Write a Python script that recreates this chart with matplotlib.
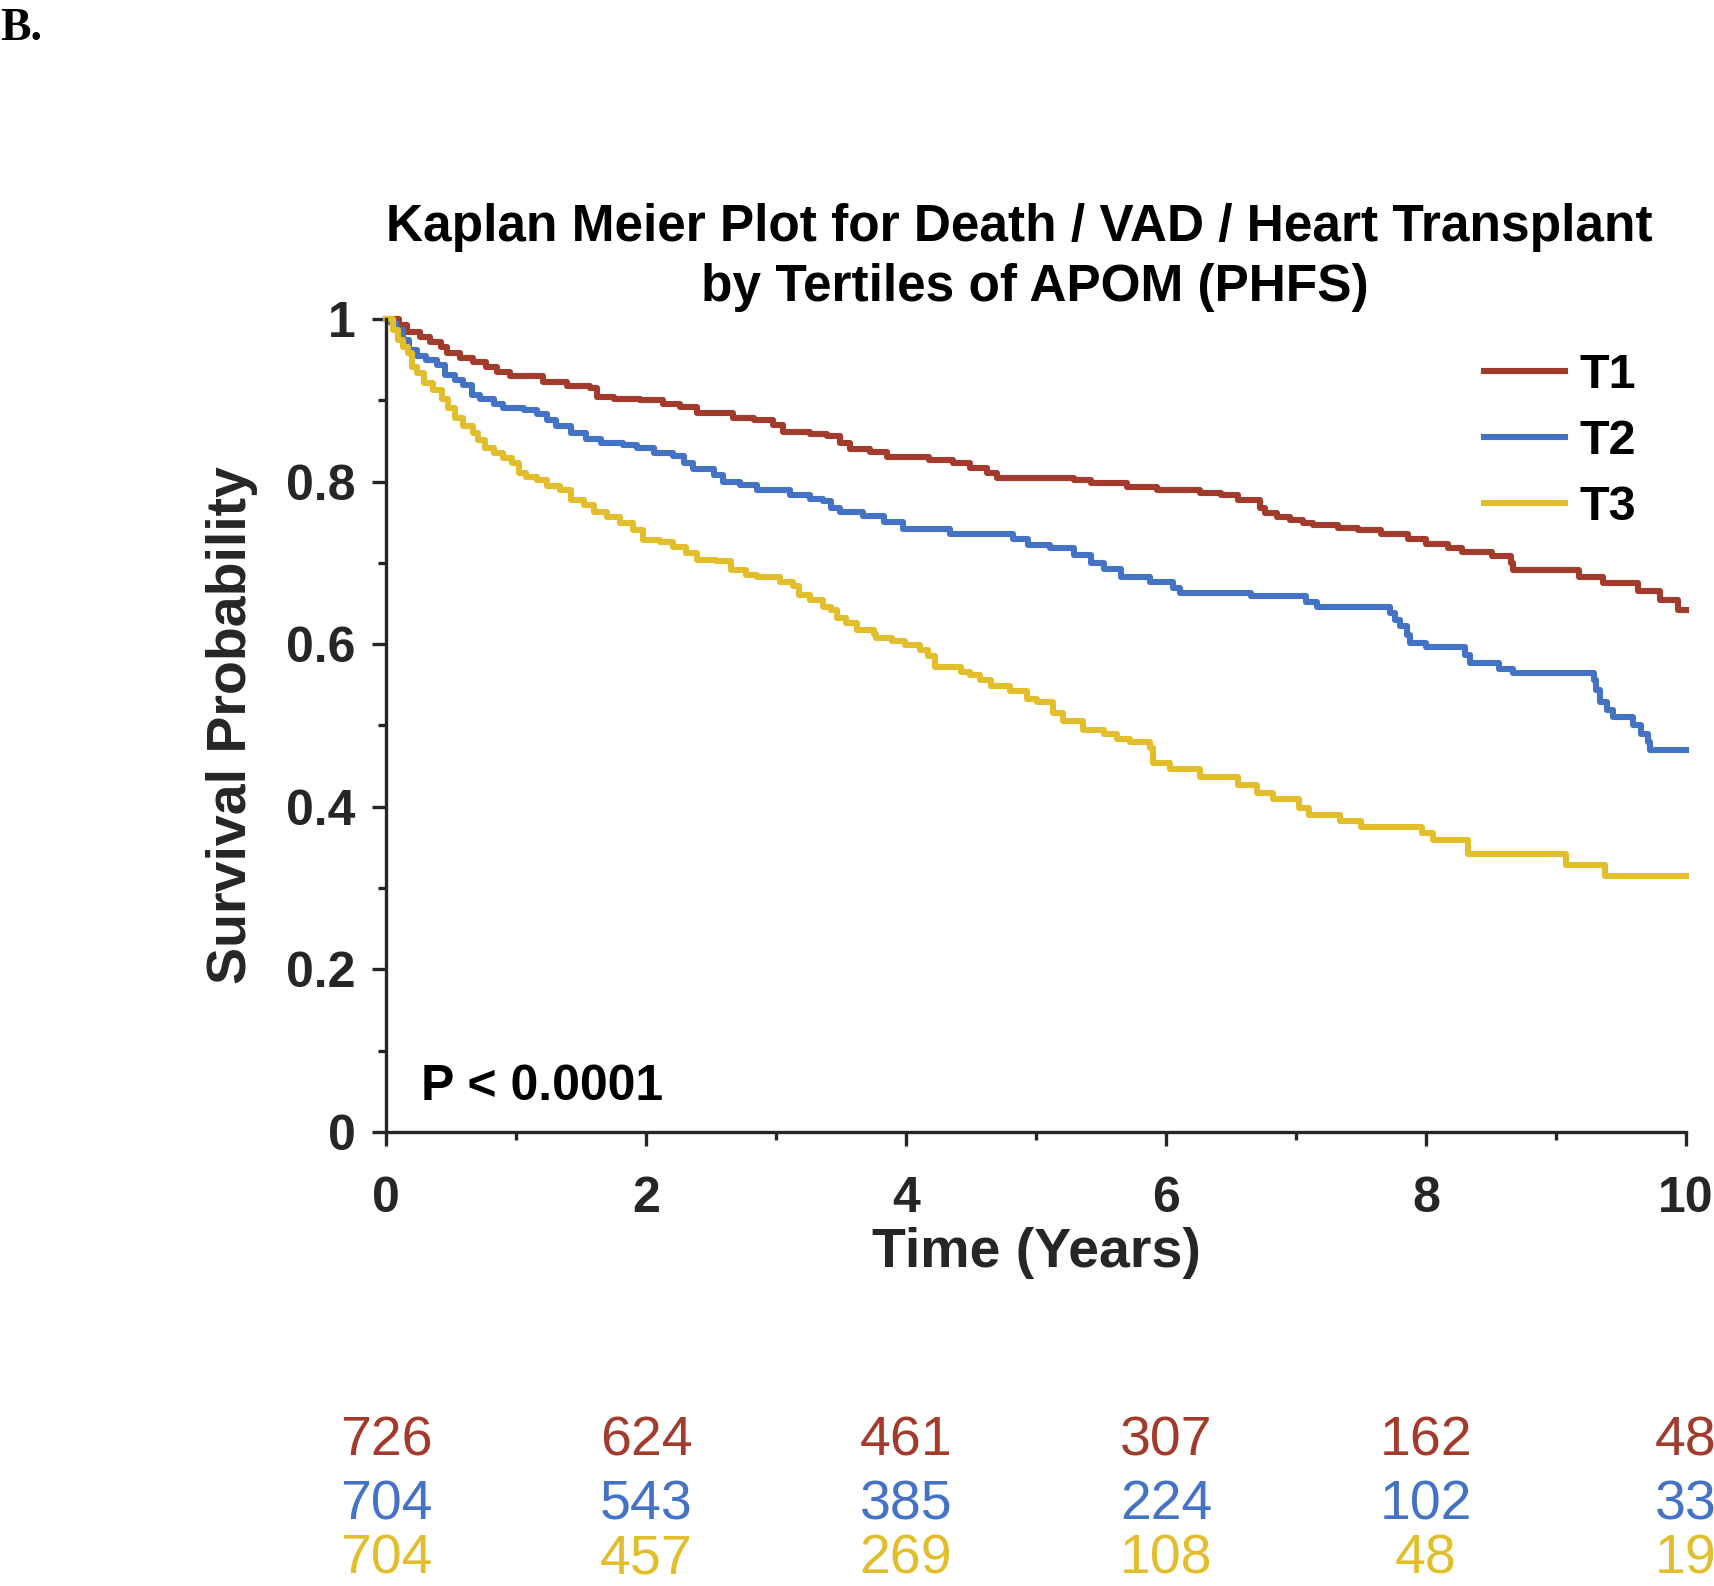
import numpy as np
import matplotlib
matplotlib.use('Agg')
import matplotlib.pyplot as plt
from matplotlib.ticker import MultipleLocator
from matplotlib.transforms import blended_transform_factory

plt.rcParams['font.family'] = ['Liberation Sans', 'DejaVu Sans']

# step times (years) and survival after each step
t1_time = [0, 0.1, 0.16, 0.26, 0.34, 0.42, 0.47, 0.57, 0.67, 0.77,
           0.85, 0.95, 1.21, 1.39, 1.57, 1.62, 1.75, 1.95, 2.13, 2.26,
           2.39, 2.67, 2.83, 2.98, 3.05, 3.26, 3.39, 3.49, 3.57, 3.72,
           3.85, 4.18, 4.36, 4.49, 4.62, 4.70, 5.29, 5.42, 5.70, 5.93,
           6.26, 6.42, 6.55, 6.72, 6.76, 6.85, 6.95, 7.05, 7.13, 7.32,
           7.48, 7.65, 7.86, 8.0, 8.17, 8.28, 8.51, 8.65, 8.67, 9.18,
           9.36, 9.63, 9.8, 9.94, 10.0]
t1_surv = [1.0, 0.993, 0.984, 0.978, 0.972, 0.966, 0.958, 0.952, 0.947, 0.941,
           0.935, 0.930, 0.923, 0.918, 0.915, 0.904, 0.902, 0.900, 0.896, 0.892,
           0.884, 0.878, 0.876, 0.870, 0.861, 0.859, 0.856, 0.847, 0.840, 0.836,
           0.830, 0.827, 0.823, 0.817, 0.811, 0.805, 0.802, 0.798, 0.793, 0.790,
           0.786, 0.784, 0.777, 0.767, 0.761, 0.757, 0.753, 0.749, 0.747, 0.743,
           0.740, 0.736, 0.730, 0.723, 0.718, 0.713, 0.708, 0.700, 0.691, 0.683,
           0.675, 0.665, 0.654, 0.642, 0.642]

t2_time = [0, 0.04, 0.08, 0.13, 0.18, 0.24, 0.31, 0.39, 0.45, 0.53,
           0.59, 0.66, 0.72, 0.83, 0.90, 1.06, 1.16, 1.24, 1.31, 1.42,
           1.54, 1.65, 1.82, 1.93, 2.06, 2.21, 2.29, 2.36, 2.52, 2.59,
           2.72, 2.85, 3.11, 3.26, 3.36, 3.42, 3.49, 3.67, 3.83, 3.98,
           4.34, 4.82, 4.94, 5.11, 5.29, 5.42, 5.52, 5.65, 5.88, 6.05,
           6.11, 6.65, 7.08, 7.16, 7.72, 7.76, 7.8, 7.85, 7.88, 8.0,
           8.3, 8.34, 8.56, 8.67, 9.29, 9.31, 9.34, 9.39, 9.44, 9.59,
           9.65, 9.71, 9.72, 10.0]
t2_surv = [1.0, 0.995, 0.986, 0.974, 0.962, 0.954, 0.950, 0.943, 0.931, 0.925,
           0.919, 0.906, 0.902, 0.896, 0.891, 0.888, 0.883, 0.876, 0.868, 0.860,
           0.853, 0.847, 0.845, 0.841, 0.835, 0.831, 0.823, 0.815, 0.808, 0.800,
           0.796, 0.790, 0.784, 0.779, 0.776, 0.767, 0.763, 0.758, 0.750, 0.742,
           0.736, 0.730, 0.722, 0.718, 0.710, 0.700, 0.692, 0.683, 0.676, 0.669,
           0.663, 0.659, 0.652, 0.646, 0.638, 0.630, 0.622, 0.611, 0.602, 0.597,
           0.587, 0.577, 0.570, 0.564, 0.556, 0.544, 0.529, 0.519, 0.511, 0.501,
           0.490, 0.480, 0.470, 0.470]

t3_time = [0, 0.05, 0.09, 0.13, 0.17, 0.2, 0.24, 0.29, 0.36, 0.43,
           0.48, 0.53, 0.59, 0.67, 0.71, 0.76, 0.83, 0.9, 0.97, 1.02,
           1.08, 1.16, 1.24, 1.34, 1.42, 1.52, 1.6, 1.7, 1.8, 1.9,
           1.98, 2.11, 2.21, 2.31, 2.39, 2.54, 2.65, 2.77, 2.85, 3.03,
           3.13, 3.18, 3.26, 3.36, 3.42, 3.47, 3.54, 3.62, 3.75, 3.77,
           3.89, 3.99, 4.11, 4.17, 4.22, 4.42, 4.49, 4.57, 4.65, 4.8,
           4.93, 5.01, 5.13, 5.21, 5.36, 5.52, 5.62, 5.72, 5.88, 5.9,
           6.03, 6.26, 6.55, 6.7, 6.82, 7.02, 7.1, 7.34, 7.5, 7.97,
           8.05, 8.32, 9.08, 9.38, 10.0]
t3_surv = [1.0, 0.986, 0.974, 0.966, 0.958, 0.941, 0.933, 0.921, 0.913, 0.902,
           0.890, 0.878, 0.868, 0.860, 0.851, 0.841, 0.835, 0.829, 0.823, 0.810,
           0.806, 0.802, 0.794, 0.790, 0.777, 0.771, 0.763, 0.757, 0.749, 0.740,
           0.728, 0.726, 0.720, 0.712, 0.704, 0.702, 0.691, 0.685, 0.683, 0.677,
           0.671, 0.661, 0.654, 0.646, 0.642, 0.632, 0.626, 0.618, 0.613, 0.608,
           0.604, 0.599, 0.593, 0.585, 0.572, 0.566, 0.562, 0.556, 0.548, 0.542,
           0.533, 0.529, 0.515, 0.505, 0.495, 0.490, 0.484, 0.480, 0.472, 0.454,
           0.446, 0.437, 0.427, 0.417, 0.409, 0.398, 0.390, 0.382, 0.375, 0.368,
           0.359, 0.342, 0.328, 0.315, 0.315]

labels = ['T1', 'T2', 'T3']
colors = ['#A33B2D', '#4473C5', '#E3BE2C']

# numbers at risk
risk_times = [0, 2, 4, 6, 8, 10]
risk_t1 = [726, 624, 461, 307, 162, 48]
risk_t2 = [704, 543, 385, 224, 102, 33]
risk_t3 = [704, 457, 269, 108, 48, 19]

W, H = 1714, 1586
fig = plt.figure(figsize=(W / 100, H / 100), dpi=100)
ax = fig.add_axes([386 / W, 1 - 1132 / H, 1300 / W, 813 / H])

curves = [(t1_time, t1_surv), (t2_time, t2_surv), (t3_time, t3_surv)]
for (tt, ss), lab, col in zip(curves, labels, colors):
    ax.step(tt, ss, where='post', color=col, lw=4.4, label=lab, clip_on=False)

ax.set_xlim(0, 10)
ax.set_ylim(0, 1)
ax.xaxis.set_major_locator(MultipleLocator(2))
ax.xaxis.set_minor_locator(MultipleLocator(1))
ax.yaxis.set_minor_locator(MultipleLocator(0.1))
ax.set_yticks([0, 0.2, 0.4, 0.6, 0.8, 1.0])
ax.set_yticklabels(['0', '0.2', '0.4', '0.6', '0.8', '1'])

dark = '#262626'
for side in ['top', 'right']:
    ax.spines[side].set_visible(False)
for side in ['left', 'bottom']:
    ax.spines[side].set_color(dark)
    ax.spines[side].set_linewidth(2.4)

ax.tick_params(which='major', direction='out', length=10, width=2.4, color=dark,
               labelsize=36, labelcolor=dark)
ax.tick_params(which='minor', direction='out', length=5.5, width=2.4, color=dark)
ax.tick_params(axis='x', pad=22)
ax.tick_params(axis='y', pad=12)
for lbl in ax.get_xticklabels() + ax.get_yticklabels():
    lbl.set_fontweight('bold')

ax.set_xlabel('Time (Years)', fontsize=40, fontweight='bold', color=dark, labelpad=3)
ax.set_ylabel('Survival Probability', fontsize=40, fontweight='bold', color=dark, labelpad=20)

fig.text(1019 / W, 1 - 227 / H, 'Kaplan Meier Plot for Death / VAD / Heart Transplant',
         ha='center', va='center', fontsize=37, fontweight='bold', color='black')
fig.text(1035 / W, 1 - 288 / H, 'by Tertiles of APOM (PHFS)',
         ha='center', va='center', fontsize=37, fontweight='bold', color='black')

ax.text(0.268, 0.055, 'P < 0.0001', fontsize=36, fontweight='bold', color='black',
        ha='left', va='center')

leg = ax.legend(loc='upper left', bbox_to_anchor=(1484 / W, 1 - 353 / H),
                bbox_transform=fig.transFigure, frameon=False, fontsize=35,
                handlelength=1.67, handletextpad=0.3, labelspacing=0.43,
                borderpad=0, borderaxespad=0)
for txt in leg.get_texts():
    txt.set_fontweight('bold')

fig.text(0.0, 1 - 8 / H, 'B.', family='Liberation Serif', fontsize=33,
         fontweight='bold', ha='left', va='top', color='black')

tr = blended_transform_factory(ax.transData, fig.transFigure)
row_base = [1 - 1456 / H, 1 - 1519 / H, 1 - 1573 / H]
for counts, col, yy in zip([risk_t1, risk_t2, risk_t3], colors, row_base):
    for tx, n in zip(risk_times, counts):
        ax.text(tx, yy, str(n), transform=tr, fontsize=40, color=col,
                ha='center', va='baseline', clip_on=False)

fig.savefig('out.png', dpi=100)
